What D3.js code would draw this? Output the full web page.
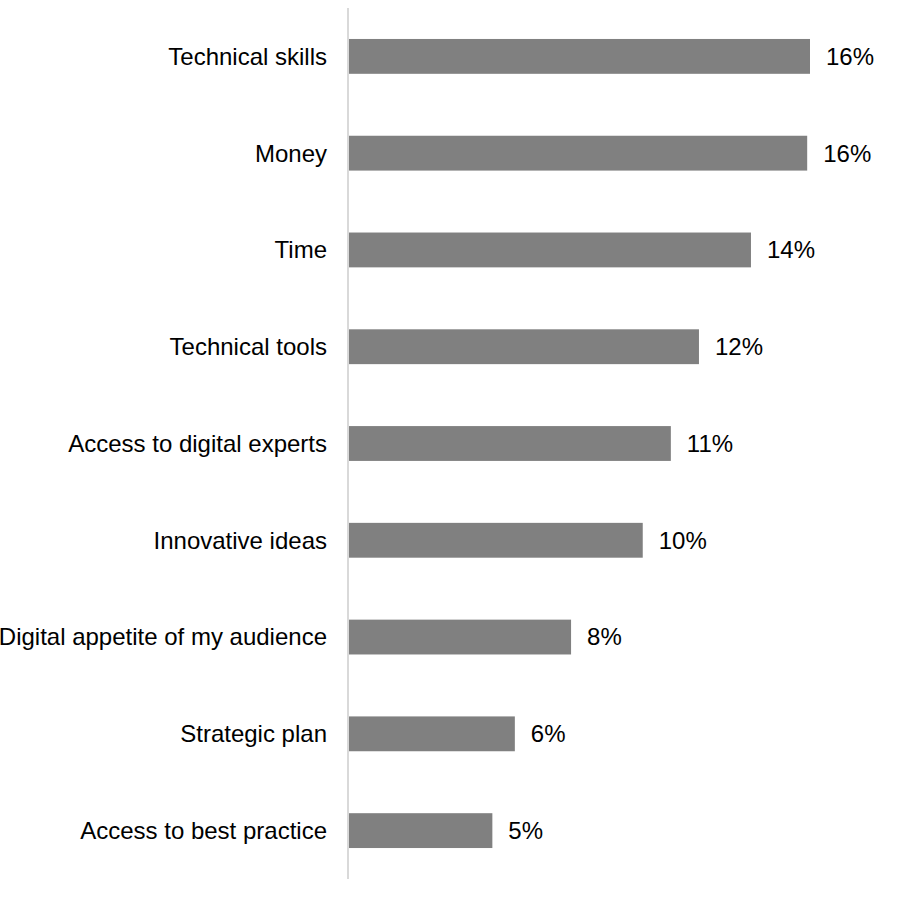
<!DOCTYPE html>
<html>
<head>
<meta charset="utf-8">
<script src="https://cdn.jsdelivr.net/npm/d3@7"></script>
<style>
  body { margin: 0; background: #fff; }
  text { font-family: "Liberation Sans", Arial, sans-serif; }
</style>
</head>
<body>
<div id="chart"></div>
<script>
const categories = ["Technical skills", "Money", "Time", "Technical tools", "Access to digital experts",
    "Innovative ideas", "Digital appetite of my audience", "Strategic plan", "Access to best practice"];
const values = [16.4, 16.3, 14.3, 12.45, 11.45, 10.45, 7.9, 5.9, 5.1];

const data = categories.map((c, i) => ({ name: c, value: values[i] }));

const svg = d3.select("#chart").append("svg")
    .attr("width", 909)
    .attr("height", 898);

const x = d3.scaleLinear().domain([0, 16.4]).range([349, 810]);
const y = d3.scaleBand().domain(categories).range([8, 879]).paddingInner(0.64).paddingOuter(0.32);

svg.append("g")
    .selectAll("rect")
    .data(data)
    .enter().append("rect")
    .attr("x", x(0))
    .attr("y", d => y(d.name))
    .attr("width", d => x(d.value) - x(0))
    .attr("height", y.bandwidth())
    .attr("fill", "#808080");

// category labels
svg.append("g")
    .selectAll("text")
    .data(data)
    .enter().append("text")
    .attr("x", 327)
    .attr("y", d => y(d.name) + y.bandwidth() / 2)
    .attr("dy", "0.35em")
    .attr("text-anchor", "end")
    .style("font-size", "24px")
    .style("fill", "#000")
    .text(d => d.name);

// value labels
svg.append("g")
    .selectAll("text")
    .data(data)
    .enter().append("text")
    .attr("x", d => x(d.value) + 16)
    .attr("y", d => y(d.name) + y.bandwidth() / 2)
    .attr("dy", "0.35em")
    .style("font-size", "24px")
    .style("fill", "#000")
    .text(d => Math.round(d.value) + "%");

// vertical axis line
svg.append("line")
    .attr("x1", 348).attr("x2", 348)
    .attr("y1", 8).attr("y2", 879)
    .style("stroke", "#d9d9d9")
    .style("stroke-width", 2);
</script>
</body>
</html>
